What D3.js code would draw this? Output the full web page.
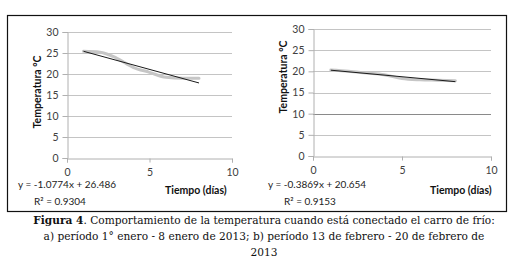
<!DOCTYPE html>
<html>
<head>
<meta charset="utf-8">
<script src="https://cdn.jsdelivr.net/npm/d3@7"></script>
<style>
  body { margin: 0; background: #fff; }
  svg { display: block; }
  .tick text { font-family: Lato, "Open Sans", sans-serif; font-size: 10.5px; fill: #404040; }
  .lbl { font-family: Lato, "Open Sans", sans-serif; font-size: 10px; fill: #222; }
  .ttl { font-family: Lato, "Open Sans", sans-serif; font-size: 10.5px; font-weight: bold; fill: #111; }
  .cap { font-family: "DejaVu Serif", serif; font-size: 10.6px; fill: #111; }
</style>
</head>
<body>
<svg id="chart"></svg>
<script>
// días 1..8
const days = [1, 2, 3, 4, 5, 6, 7, 8];
// a) 1 enero - 8 enero 2013
const tempA = [25.4, 25.2, 23.8, 21.6, 20.4, 19.2, 19.0, 19.0];
// b) 13 febrero - 20 febrero 2013
const tempB = [20.3, 20.0, 19.6, 19.2, 18.3, 18.0, 17.9, 17.8];
// líneas de tendencia (Excel)
const trendA = { slope: -1.0774, intercept: 26.486, r2: "0.9304" };
const trendB = { slope: -0.3869, intercept: 20.654, r2: "0.9153" };
const xTicks = [0, 5, 10];
const yTicks = [0, 5, 10, 15, 20, 25, 30];
const caption = [
  ["Figura 4", ". Comportamiento de la temperatura cuando está conectado el carro de frío:"],
  ["", "a) período 1° enero - 8 enero de 2013; b) período 13 de febrero - 20 de febrero de"],
  ["", "2013"],
];

const W = 521, H = 271;
const svg = d3.select("#chart").attr("width", W).attr("height", H);

svg.append("rect")
  .attr("x", 7.5).attr("y", 15.5)
  .attr("width", 499).attr("height", 196)
  .attr("fill", "none").attr("stroke", "#111").attr("stroke-width", 1.2);

function panel(cfg) {
  const x = d3.scaleLinear().domain([0, 10]).range(cfg.xr);
  const y = d3.scaleLinear().domain([0, 30]).range(cfg.yr);
  const g = svg.append("g");

  // gridlines
  g.selectAll("line.grid").data(yTicks.filter(d => d > 0)).join("line")
    .attr("class", "grid")
    .attr("x1", x(0)).attr("x2", x(10))
    .attr("y1", d => Math.round(y(d)) + 0.5).attr("y2", d => Math.round(y(d)) + 0.5)
    .attr("stroke", d => (cfg.darkTen && d === 10) ? "#8a8a8a" : "#c4c4c4");

  const yAxis = g.append("g")
    .attr("transform", `translate(${Math.round(x(0)) + 0.5},0)`)
    .call(d3.axisLeft(y).tickValues(yTicks).tickSize(5).tickPadding(4));
  const xAxis = g.append("g")
    .attr("transform", `translate(0,${Math.round(y(0)) + 0.5})`)
    .call(d3.axisBottom(x).tickValues(xTicks).tickSize(4).tickPadding(6));
  [yAxis, xAxis].forEach(a => {
    a.select(".domain").attr("stroke", "#b0b0b0");
    a.selectAll(".tick line").attr("stroke", "#b0b0b0");
  });

  // serie medida
  g.append("path")
    .datum(days.map((d, i) => [d, cfg.temps[i]]))
    .attr("fill", "none").attr("stroke", "#c6c6c6").attr("stroke-width", 3)
    .attr("stroke-linecap", "round")
    .attr("d", d3.line().x(d => x(d[0])).y(d => y(d[1])).curve(d3.curveMonotoneX));

  // tendencia lineal
  const ends = [days[0], days[days.length - 1]];
  g.append("path")
    .datum(ends.map(d => [d, cfg.trend.slope * d + cfg.trend.intercept]))
    .attr("fill", "none").attr("stroke", "#1a1a1a").attr("stroke-width", 1)
    .attr("d", d3.line().x(d => x(d[0])).y(d => y(d[1])));

  g.append("text").attr("class", "ttl")
    .attr("transform", `translate(${cfg.ytX},${cfg.ytY}) rotate(-90)`)
    .attr("text-anchor", "middle").attr("dy", "0.35em")
    .text("Temperatura °C");

  g.append("text").attr("class", "ttl")
    .attr("x", cfg.xtX).attr("y", 194)
    .text("Tiempo (días)");

  const sign = cfg.trend.intercept >= 0 ? "+" : "-";
  g.append("text").attr("class", "lbl")
    .attr("x", cfg.eqX).attr("y", 188)
    .text(`y = ${cfg.trend.slope}x ${sign} ${Math.abs(cfg.trend.intercept)}`);
  g.append("text").attr("class", "lbl")
    .attr("x", cfg.eqX + 16).attr("y", 205)
    .text(`R² = ${cfg.trend.r2}`);
}

panel({ xr: [67, 232], yr: [158, 32], temps: tempA, trend: trendA,
        ytX: 37, ytY: 92, xtX: 165, eqX: 18 });
panel({ xr: [313, 491], yr: [156, 29], temps: tempB, trend: trendB,
        ytX: 283, ytY: 77, xtX: 430, eqX: 268, darkTen: true });

// pie de figura
const cap = svg.append("g");
caption.forEach((c, i) => {
  const t = cap.append("text").attr("class", "cap")
    .attr("x", 264).attr("y", 224 + i * 16)
    .attr("text-anchor", "middle");
  if (c[0]) t.append("tspan").attr("font-weight", "bold").text(c[0]);
  t.append("tspan").text(c[1]);
});
</script>
</body>
</html>
